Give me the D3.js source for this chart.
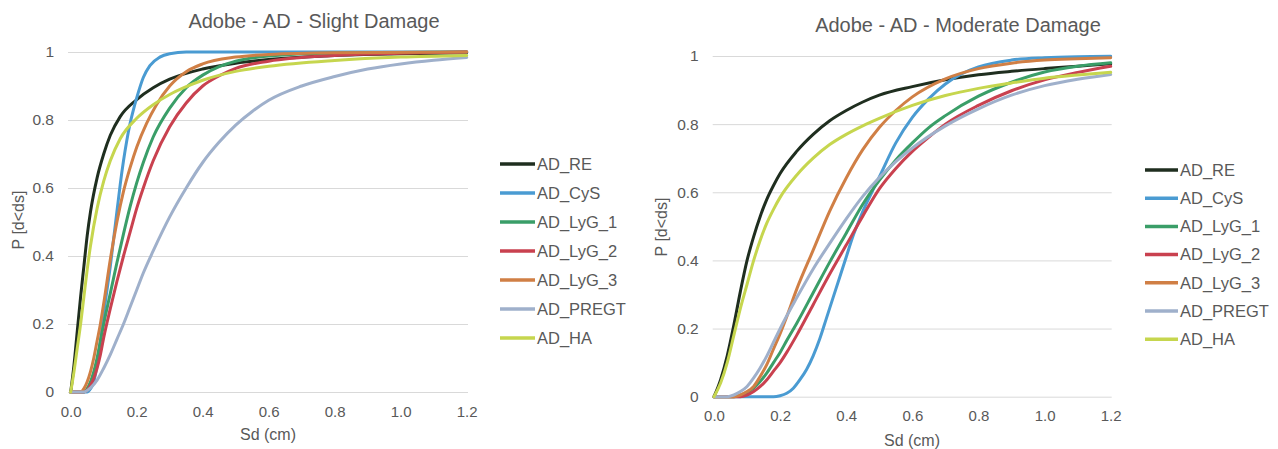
<!DOCTYPE html>
<html>
<head>
<meta charset="utf-8">
<script src="https://cdnjs.cloudflare.com/ajax/libs/d3/7.8.5/d3.min.js"></script>
<style>
  body { margin: 0; background: #fff; }
  svg { display: block; font-family: "Liberation Sans", Arial, sans-serif; }
</style>
</head>
<body>
<div id="chart"></div>
<script>
// series names and colours
var seriesNames = ["AD_RE", "AD_CyS", "AD_LyG_1", "AD_LyG_2", "AD_LyG_3", "AD_PREGT", "AD_HA"];
var seriesColors = ["#1f2e1f", "#4a9bd2", "#3a9e68", "#c9414f", "#d07f45", "#9fb0cb", "#c6d64e"];

var xTicks = [0, 0.2, 0.4, 0.6, 0.8, 1.0, 1.2];
var yTicks = [0, 0.2, 0.4, 0.6, 0.8, 1];

// Slight damage: [Sd (cm), P]
var slightRE = [[0,0],[0.01,0.08],[0.02,0.18],[0.03,0.28],[0.04,0.37],[0.05,0.46],[0.06,0.53],[0.08,0.63],[0.1,0.7],[0.12,0.755],[0.15,0.81],[0.2,0.86],[0.25,0.895],[0.3,0.92],[0.4,0.95],[0.5,0.967],[0.6,0.978],[0.8,0.99],[1.0,0.995],[1.2,0.998]];
var slightCyS = [[0,0],[0.05,0],[0.06,0.01],[0.07,0.03],[0.08,0.08],[0.09,0.15],[0.1,0.23],[0.11,0.3],[0.12,0.37],[0.13,0.45],[0.14,0.53],[0.15,0.61],[0.16,0.68],[0.17,0.74],[0.18,0.79],[0.19,0.83],[0.2,0.865],[0.22,0.925],[0.24,0.96],[0.27,0.985],[0.3,0.995],[0.35,1.0],[1.2,1.0]];
var slightLyG1 = [[0,0],[0.04,0],[0.05,0.01],[0.06,0.03],[0.07,0.06],[0.08,0.1],[0.09,0.15],[0.1,0.2],[0.12,0.29],[0.14,0.38],[0.16,0.465],[0.18,0.545],[0.2,0.615],[0.22,0.675],[0.25,0.75],[0.3,0.835],[0.35,0.895],[0.4,0.932],[0.45,0.957],[0.5,0.973],[0.6,0.988],[0.8,0.997],[1.2,1.0]];
var slightLyG2 = [[0,0],[0.04,0],[0.05,0.005],[0.06,0.02],[0.07,0.04],[0.08,0.07],[0.09,0.11],[0.1,0.16],[0.12,0.245],[0.14,0.325],[0.16,0.4],[0.18,0.47],[0.2,0.54],[0.22,0.6],[0.25,0.68],[0.3,0.78],[0.35,0.85],[0.4,0.9],[0.45,0.93],[0.5,0.952],[0.6,0.973],[0.8,0.99],[1.0,0.996],[1.2,1.0]];
var slightLyG3 = [[0,0],[0.03,0],[0.04,0.01],[0.05,0.03],[0.06,0.06],[0.07,0.1],[0.08,0.15],[0.09,0.2],[0.1,0.26],[0.12,0.39],[0.14,0.5],[0.16,0.59],[0.18,0.66],[0.2,0.72],[0.23,0.79],[0.26,0.845],[0.3,0.9],[0.35,0.942],[0.4,0.965],[0.5,0.985],[0.6,0.993],[0.8,0.998],[1.2,1.0]];
var slightPREGT = [[0,0],[0.04,0],[0.06,0.012],[0.08,0.035],[0.1,0.07],[0.12,0.11],[0.14,0.155],[0.16,0.2],[0.18,0.25],[0.2,0.3],[0.22,0.35],[0.25,0.415],[0.3,0.515],[0.35,0.6],[0.4,0.675],[0.45,0.735],[0.5,0.785],[0.55,0.825],[0.6,0.858],[0.7,0.9],[0.8,0.928],[0.9,0.95],[1.0,0.965],[1.1,0.976],[1.2,0.984]];
var slightHA = [[0,0],[0.01,0.06],[0.02,0.13],[0.03,0.2],[0.04,0.28],[0.05,0.36],[0.06,0.43],[0.08,0.54],[0.1,0.62],[0.12,0.68],[0.15,0.745],[0.2,0.805],[0.25,0.845],[0.3,0.875],[0.35,0.898],[0.4,0.917],[0.5,0.943],[0.6,0.958],[0.8,0.975],[1.0,0.985],[1.2,0.99]];

// Moderate damage: [Sd (cm), P]
var moderateRE = [[0,0],[0.02,0.05],[0.04,0.12],[0.06,0.21],[0.08,0.31],[0.1,0.4],[0.12,0.47],[0.14,0.53],[0.16,0.58],[0.18,0.62],[0.2,0.655],[0.25,0.72],[0.3,0.77],[0.35,0.81],[0.4,0.84],[0.45,0.865],[0.5,0.885],[0.6,0.91],[0.7,0.93],[0.8,0.945],[0.9,0.955],[1.0,0.963],[1.1,0.97],[1.2,0.977]];
var moderateCyS = [[0,0],[0.18,0],[0.2,0.003],[0.22,0.01],[0.24,0.025],[0.26,0.05],[0.28,0.08],[0.3,0.12],[0.32,0.17],[0.34,0.23],[0.36,0.29],[0.38,0.35],[0.4,0.41],[0.42,0.47],[0.44,0.52],[0.46,0.565],[0.48,0.605],[0.5,0.645],[0.55,0.745],[0.6,0.82],[0.65,0.875],[0.7,0.918],[0.75,0.948],[0.8,0.968],[0.9,0.988],[1.0,0.995],[1.1,0.998],[1.2,0.999]];
var moderateLyG1 = [[0,0],[0.06,0],[0.08,0.005],[0.1,0.012],[0.12,0.025],[0.14,0.045],[0.16,0.07],[0.18,0.1],[0.2,0.13],[0.22,0.165],[0.25,0.215],[0.3,0.305],[0.35,0.395],[0.4,0.48],[0.45,0.565],[0.5,0.635],[0.55,0.695],[0.6,0.745],[0.65,0.79],[0.7,0.825],[0.8,0.882],[0.9,0.923],[1.0,0.953],[1.1,0.97],[1.2,0.98]];
var moderateLyG2 = [[0,0],[0.08,0],[0.1,0.005],[0.12,0.015],[0.14,0.03],[0.16,0.05],[0.18,0.075],[0.2,0.1],[0.22,0.13],[0.25,0.18],[0.3,0.27],[0.35,0.36],[0.4,0.445],[0.45,0.53],[0.5,0.61],[0.55,0.67],[0.6,0.72],[0.65,0.762],[0.7,0.8],[0.8,0.855],[0.9,0.898],[1.0,0.93],[1.1,0.952],[1.2,0.97]];
var moderateLyG3 = [[0,0],[0.06,0],[0.08,0.005],[0.1,0.015],[0.12,0.03],[0.14,0.06],[0.16,0.095],[0.18,0.14],[0.2,0.185],[0.22,0.235],[0.25,0.315],[0.3,0.43],[0.35,0.545],[0.4,0.642],[0.45,0.725],[0.5,0.79],[0.55,0.84],[0.6,0.88],[0.7,0.933],[0.8,0.963],[0.9,0.979],[1.0,0.988],[1.1,0.992],[1.2,0.995]];
var moderatePREGT = [[0,0],[0.04,0],[0.06,0.005],[0.08,0.015],[0.1,0.03],[0.12,0.055],[0.14,0.085],[0.16,0.12],[0.18,0.16],[0.2,0.2],[0.25,0.29],[0.3,0.375],[0.35,0.45],[0.4,0.522],[0.45,0.588],[0.5,0.643],[0.55,0.69],[0.6,0.73],[0.7,0.795],[0.8,0.845],[0.9,0.885],[1.0,0.913],[1.1,0.932],[1.2,0.946]];
var moderateHA = [[0,0],[0.02,0.04],[0.04,0.1],[0.06,0.18],[0.08,0.26],[0.1,0.33],[0.12,0.4],[0.14,0.46],[0.16,0.51],[0.18,0.55],[0.2,0.585],[0.25,0.65],[0.3,0.7],[0.35,0.74],[0.4,0.77],[0.45,0.795],[0.5,0.817],[0.6,0.855],[0.7,0.884],[0.8,0.905],[0.9,0.921],[1.0,0.935],[1.1,0.944],[1.2,0.952]];

var slightSeries = [slightRE, slightCyS, slightLyG1, slightLyG2, slightLyG3, slightPREGT, slightHA];
var moderateSeries = [moderateRE, moderateCyS, moderateLyG1, moderateLyG2, moderateLyG3, moderatePREGT, moderateHA];

var W = 1278, H = 449;
var textColor = "#595959";

var svg = d3.select("#chart")
	.append("svg")
	.attr("width", W)
	.attr("height", H);

svg.append("rect").attr("width", W).attr("height", H).attr("fill", "#fff");

function drawPanel(opt) {
	var x = d3.scaleLinear().domain([0, 1.2]).range([opt.x0, opt.x1]);
	var y = d3.scaleLinear().domain([0, 1]).range([opt.y0, opt.y1]);
	var g = svg.append("g");

	// gridlines + y labels
	var yAxis = d3.axisLeft(y)
		.tickValues(yTicks)
		.tickFormat(d3.format(""))
		.tickSize(-(opt.gx1 - opt.gx0))
		.tickPadding(14);
	var ya = g.append("g")
		.attr("transform", "translate(" + opt.gx0 + ",0)")
		.call(yAxis);
	ya.select(".domain").remove();
	ya.selectAll("line").attr("stroke", "#d9d9d9");
	ya.selectAll("text").attr("fill", textColor).style("font-size", "15.5px");

	var xAxis = d3.axisBottom(x)
		.tickValues(xTicks)
		.tickFormat(d3.format(".1f"))
		.tickSize(0)
		.tickPadding(14);
	var xa = g.append("g")
		.attr("transform", "translate(0," + opt.y0 + ")")
		.call(xAxis);
	xa.select(".domain").remove();
	xa.selectAll("text").attr("fill", textColor).style("font-size", "15px");

	// curves
	var line = d3.line()
		.x(function(d) { return x(d[0]); })
		.y(function(d) { return y(d[1]); })
		.curve(d3.curveMonotoneX);

	g.selectAll("path.curve")
		.data(opt.series)
		.enter()
		.append("path")
		.attr("class", "curve")
		.attr("d", line)
		.attr("fill", "none")
		.attr("stroke", function(d, i) { return seriesColors[i]; })
		.attr("stroke-width", 3)
		.attr("stroke-linejoin", "round")
		.attr("stroke-linecap", "round");

	// titles
	g.append("text")
		.attr("x", opt.titleX)
		.attr("y", opt.titleY)
		.attr("text-anchor", "middle")
		.attr("fill", textColor)
		.style("font-size", "20px")
		.text(opt.title);

	g.append("text")
		.attr("x", opt.xTitleX)
		.attr("y", opt.xTitleY)
		.attr("text-anchor", "middle")
		.attr("fill", textColor)
		.style("font-size", "16px")
		.text("Sd (cm)");

	g.append("text")
		.attr("transform", "translate(" + opt.yTitleX + "," + opt.yTitleY + ") rotate(-90)")
		.attr("text-anchor", "middle")
		.attr("fill", textColor)
		.style("font-size", "16px")
		.text("P [d<ds]");

	// legend
	var leg = g.selectAll("g.leg")
		.data(seriesNames)
		.enter()
		.append("g")
		.attr("transform", function(d, i) {
			return "translate(" + opt.legX + "," + (opt.legY + i * opt.legStep) + ")";
		});
	leg.append("line")
		.attr("x1", 0).attr("x2", opt.legLen)
		.attr("stroke", function(d, i) { return seriesColors[i]; })
		.attr("stroke-width", 3.5);
	leg.append("text")
		.attr("x", opt.legLen + 2)
		.attr("dy", "0.35em")
		.attr("fill", textColor)
		.style("font-size", "16.5px")
		.text(function(d) { return d; });
}

drawPanel({
	title: "Adobe - AD - Slight Damage",
	series: slightSeries,
	x0: 70.7, x1: 466.7, y0: 392, y1: 52,
	gx0: 68, gx1: 468,
	titleX: 314, titleY: 28,
	xTitleX: 268, xTitleY: 440,
	yTitleX: 24, yTitleY: 220,
	legX: 500, legY: 164, legStep: 29, legLen: 35
});

drawPanel({
	title: "Adobe - AD - Moderate Damage",
	series: moderateSeries,
	x0: 714, x1: 1110.7, y0: 396.7, y1: 56,
	gx0: 712.7, gx1: 1111.7,
	titleX: 958, titleY: 32,
	xTitleX: 912, xTitleY: 446,
	yTitleX: 667, yTitleY: 227,
	legX: 1145, legY: 170, legStep: 28.2, legLen: 33
});
</script>
</body>
</html>
